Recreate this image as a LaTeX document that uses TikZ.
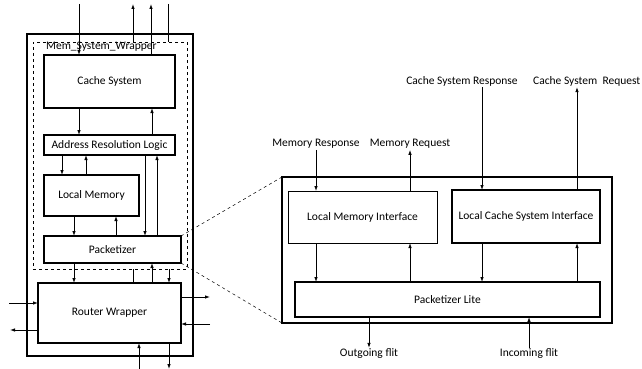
\documentclass[tikz,border=0pt]{standalone}
\usepackage{fontspec}
\setmainfont{Carlito}
\usetikzlibrary{arrows.meta}
\begin{document}
\begin{tikzpicture}[x=1pt,y=-1pt,
 box/.style={draw, line width=1.6pt, inner sep=0pt, outer sep=0pt, anchor=north west, font=\fontsize{11.5}{13}\selectfont},
 thinbox/.style={box, line width=0.7pt},
 arr/.style={-{Latex[length=5pt,width=3.5pt]}, line width=0.8pt},
 ln/.style={line width=0.8pt},
 lbl/.style={font=\fontsize{11.5}{13}\selectfont, inner sep=1pt}]
\useasboundingbox (0,0) rectangle (642,369);
% left side
\node[box, minimum width=166pt, minimum height=322pt] (outer) at (27,34) {};
\node[thinbox, dashed, minimum width=154pt, minimum height=227pt] (dash) at (33,42) {};
\node[lbl, anchor=west] (msw) at (45,47) {Mem\_System\_Wrapper};
\node[box, minimum width=131pt, minimum height=53pt] (cs) at (44,55) {Cache System};
\node[box, minimum width=131pt, minimum height=20pt] (arl) at (44,135) {Address Resolution Logic};
\node[box, minimum width=95pt, minimum height=41pt] (lm) at (44,175) {Local Memory};
\node[box, minimum width=137pt, minimum height=27pt] (pk) at (44,236) {Packetizer};
\node[box, minimum width=143pt, minimum height=60pt] (rw) at (38,283) {Router Wrapper};
% right side
\node[box, minimum width=330pt, minimum height=146pt] (rbox) at (282,177) {};
\node[thinbox, minimum width=149pt, minimum height=52pt] (lmi) at (288,191) {Local Memory Interface};
\node[box, minimum width=148pt, minimum height=53pt] (lcsi) at (452,190) {Local Cache System Interface};
\node[box, minimum width=305pt, minimum height=35pt] (pl) at (295,282) {Packetizer Lite};
\node[lbl] (memresp) at (316,144) {Memory Response};
\node[lbl] (memreq) at (410,144) {Memory Request};
\node[lbl] (csresp) at (462,81) {Cache System Response};
\node[lbl, anchor=west] (csreq) at (532,81) {Cache System\ \ Request};
\node[lbl] (outflit) at (369,354) {Outgoing flit};
\node[lbl] (inflit) at (529,354) {Incoming flit};
% zoom lines
\draw[dashed, line width=0.5pt] (pk.north east) -- (rbox.north west);
\draw[dashed, line width=0.5pt] (pk.south east) -- (rbox.south west);
% coordinates
\coordinate (t79) at (79,4);
\coordinate (t133) at (133,4);
\coordinate (t151) at (151,4);
\coordinate (t168) at (168,4);
\coordinate (x152) at (152,0);
\coordinate (x62) at (62,0);
\coordinate (x86) at (86,0);
\coordinate (x145) at (145,0);
\coordinate (x157) at (157,0);
\coordinate (x74) at (74,0);
\coordinate (x116) at (116,0);
\coordinate (x133) at (133,0);
\coordinate (x169) at (169,0);
\coordinate (l303) at (9,303);
\coordinate (l330) at (10,330);
\coordinate (r297) at (210,297);
\coordinate (r324) at (210,324);
\coordinate (b139) at (139,369);
\coordinate (b169) at (169,369);
\coordinate (x482) at (482,0);
\coordinate (x577) at (577,0);
% top
\draw[arr] (t79) -- (cs.north -| t79);
\draw[arr] (dash.north -| t133) -- (t133);
\draw[arr] (cs.north -| t151) -- (t151);
\draw[ln] (t168) -- (dash.north -| t168);
% internal
\draw[arr] (cs.south -| t79) -- (arl.north -| t79);
\draw[arr] (arl.north -| x152) -- (cs.south -| x152);
\draw[arr] (arl.south -| x62) -- (lm.north -| x62);
\draw[arr] (lm.north -| x86) -- (arl.south -| x86);
\draw[arr] (arl.south -| x145) -- (pk.north -| x145);
\draw[arr] (pk.north -| x157) -- (arl.south -| x157);
\draw[arr] (lm.south -| x74) -- (pk.north -| x74);
\draw[arr] (pk.north -| x116) -- (lm.south -| x116);
\draw[arr] (pk.south -| x74) -- (rw.north -| x74);
\draw[arr] (rw.north -| x152) -- (pk.south -| x152);
\draw[ln] (rw.north -| x133) -- (dash.south -| x133);
\draw[arr] (dash.south -| x169) -- (rw.north -| x169);
% router sides
\draw[arr] (l303) -- (rw.west |- l303);
\draw[arr] (rw.west |- l330) -- (l330);
\draw[arr] (rw.east |- r297) -- (r297);
\draw[arr] (r324) -- (rw.east |- r324);
\draw[arr] (b139) -- (rw.south -| b139);
\draw[arr] (rw.south -| b169) -- (b169);
% right arrows
\draw[arr] (memresp.south) -- (lmi.north -| memresp.south);
\draw[arr] (lmi.north -| memreq.south) -- (memreq.south);
\draw[arr] (csresp.south -| x482) -- (lcsi.north -| x482);
\draw[arr] (lcsi.north -| x577) -- (csreq.south -| x577);
\draw[arr] (lmi.south -| memresp.south) -- (pl.north -| memresp.south);
\draw[arr] (pl.north -| memreq.south) -- (lmi.south -| memreq.south);
\draw[arr] (lcsi.south -| x482) -- (pl.north -| x482);
\draw[arr] (pl.north -| x577) -- (lcsi.south -| x577);
\draw[arr] (pl.south -| outflit.north) -- (outflit.north);
\draw[arr] (inflit.north) -- (pl.south -| inflit.north);
\end{tikzpicture}
\end{document}
